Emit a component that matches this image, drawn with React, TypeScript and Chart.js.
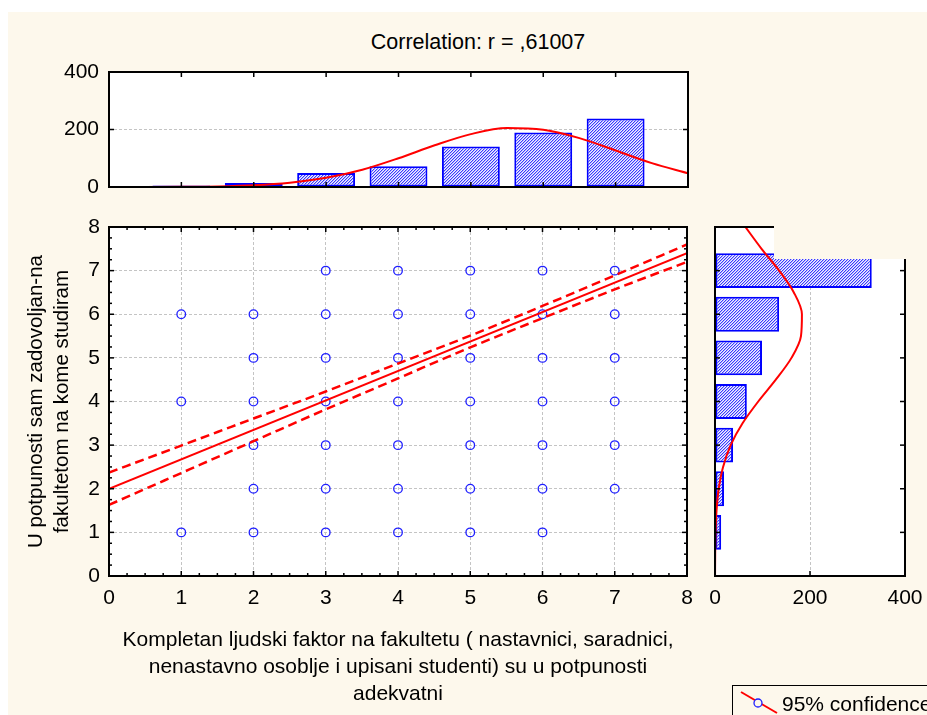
import React, { useEffect, useRef } from 'react';
import { Chart, registerables } from 'chart.js';

Chart.register(...registerables);

const FONT = "'Liberation Sans', Arial, sans-serif";
const BG = '#fdf8ec';

// ---------- Scatter (main panel) ----------
const rowLevels = [7, 6, 5, 4, 3, 2, 1];
const rowXs = [
  [3, 4, 5, 6, 7],
  [1, 2, 3, 4, 5, 6, 7],
  [2, 3, 4, 5, 6, 7],
  [1, 2, 3, 4, 5, 6, 7],
  [2, 3, 4, 5, 6, 7],
  [2, 3, 4, 5, 6, 7],
  [1, 2, 3, 4, 5, 6],
];
const fitX = [0, 8];
const fitY = [2.0, 7.4];
const bandX = [0, 1, 2, 3, 4, 5, 6, 7, 8];
const bandUpper = [2.37, 2.99, 3.61, 4.23, 4.87, 5.51, 6.19, 6.89, 7.6];
const bandLower = [1.63, 2.36, 3.09, 3.82, 4.53, 5.24, 5.91, 6.57, 7.2];

// ---------- Top histogram ----------
const topBins = [1, 2, 3, 4, 5, 6, 7];
const topCounts = [5, 14, 49, 72, 141, 190, 238];
const topCurveX = [0, 0.5, 1, 1.5, 2, 2.5, 3, 3.5, 4, 4.5, 5, 5.5, 6, 6.5, 7, 7.5, 8];
const topCurveY = [0, 0.1, 0.7, 2, 6, 15, 32, 60, 100, 145, 184, 205, 199, 170, 127, 83, 48];

// ---------- Right histogram ----------
const rightBins = [1, 2, 3, 4, 5, 6, 7];
const rightCounts = [13, 19, 38, 67, 99, 135, 330];
const rightCurvePos = [0, 0.5, 1, 1.5, 2, 2.5, 3, 3.5, 4, 4.5, 5, 5.5, 6, 6.5, 7, 7.5, 8];
const rightCurveVal = [0.1, 0.4, 1.2, 3.2, 7.8, 17, 33, 58, 91, 128, 161, 181, 183, 166, 135, 98, 64];

// ---------- Texts ----------
const titleText = 'Correlation: r = ,61007';
const xTitle = [
  'Kompletan ljudski faktor na fakultetu ( nastavnici, saradnici,',
  'nenastavno osoblje i upisani studenti) su u potpunosti',
  'adekvatni',
];
const yTitle = ['U potpunosti sam zadovoljan-na', 'fakultetom na kome studiram'];
const legendText = '95% confidence';

const majorUnits = [1, 2, 3, 4, 5, 6, 7];
const minorQuarters: number[] = [];
for (let v = 0.25; v < 8; v += 0.25) if (Math.abs(v - Math.round(v)) > 1e-6) minorQuarters.push(v);

type TickSpec = { axis: string; sides: string[]; major: number[]; minor?: number[] };

function makeFramePlugin(specs: TickSpec[], cover?: { x0: number; y1: number }) {
  return {
    id: 'frameTicks',
    beforeDraw(chart: any) {
      const { ctx, chartArea: a } = chart;
      ctx.save();
      ctx.fillStyle = '#ffffff';
      ctx.fillRect(a.left, a.top, a.right - a.left, a.bottom - a.top);
      ctx.restore();
    },
    afterDraw(chart: any) {
      const { ctx, chartArea: a, scales } = chart;
      ctx.save();
      ctx.strokeStyle = '#000';
      ctx.lineWidth = 1.5;
      const draw = (side: string, scale: any, v: number, len: number) => {
        const p = scale.getPixelForValue(v);
        ctx.beginPath();
        if (side === 'bottom') { ctx.moveTo(p, a.bottom); ctx.lineTo(p, a.bottom - len); }
        if (side === 'top') { ctx.moveTo(p, a.top); ctx.lineTo(p, a.top + len); }
        if (side === 'left') { ctx.moveTo(a.left, p); ctx.lineTo(a.left + len, p); }
        if (side === 'right') { ctx.moveTo(a.right, p); ctx.lineTo(a.right - len, p); }
        ctx.stroke();
      };
      specs.forEach((s) => {
        const scale = scales[s.axis];
        s.sides.forEach((side) => {
          s.major.forEach((v) => draw(side, scale, v, 5));
          (s.minor || []).forEach((v) => draw(side, scale, v, 3));
        });
      });
      ctx.lineWidth = 2;
      ctx.strokeRect(a.left, a.top, a.right - a.left, a.bottom - a.top);
      if (cover) {
        ctx.fillStyle = BG;
        ctx.fillRect(cover.x0, 0, chart.width - cover.x0, cover.y1);
      }
      ctx.restore();
    },
  };
}

function makeHatch(): any {
  const c = document.createElement('canvas');
  c.width = 3;
  c.height = 3;
  const g = c.getContext('2d')!;
  g.fillStyle = '#f2f2ff';
  g.fillRect(0, 0, 3, 3);
  for (let i = 0; i < 3; i++) {
    g.fillStyle = '#3a3aff';
    g.fillRect(i, 2 - i, 1, 1);
    g.fillStyle = '#b4b4ff';
    g.fillRect((i + 1) % 3, 2 - i, 1, 1);
  }
  return g.createPattern(c, 'repeat');
}

const tickFont = { size: 21, family: FONT };
const gridDash = [3, 2];
const noPadX = (s: any) => { s.paddingLeft = 0; s.paddingRight = 0; };
const noPadY = (s: any) => { s.paddingTop = 0; s.paddingBottom = 0; };

export default function App() {
  const topRef = useRef<HTMLCanvasElement>(null);
  const mainRef = useRef<HTMLCanvasElement>(null);
  const rightRef = useRef<HTMLCanvasElement>(null);

  useEffect(() => {
    const hatch = makeHatch();

    const points: { x: number; y: number }[] = [];
    rowLevels.forEach((y, i) => rowXs[i].forEach((x) => points.push({ x, y })));

    const main = new Chart(mainRef.current!, {
      type: 'scatter',
      data: {
        datasets: [
          {
            type: 'line',
            data: fitX.map((x, i) => ({ x, y: fitY[i] })),
            borderColor: '#ff0000',
            borderWidth: 2,
            pointRadius: 0,
            fill: false,
          } as any,
          {
            type: 'line',
            data: bandX.map((x, i) => ({ x, y: bandUpper[i] })),
            borderColor: '#ff0000',
            borderWidth: 2.5,
            borderDash: [9, 5],
            pointRadius: 0,
            fill: false,
            cubicInterpolationMode: 'monotone',
          } as any,
          {
            type: 'line',
            data: bandX.map((x, i) => ({ x, y: bandLower[i] })),
            borderColor: '#ff0000',
            borderWidth: 2.5,
            borderDash: [9, 5],
            pointRadius: 0,
            fill: false,
            cubicInterpolationMode: 'monotone',
          } as any,
          {
            type: 'scatter',
            data: points,
            pointRadius: 4.3,
            pointBorderWidth: 1.3,
            borderColor: '#1f1fff',
            backgroundColor: 'rgba(0,0,0,0)',
            pointBackgroundColor: 'rgba(0,0,0,0)',
          } as any,
        ],
      },
      options: {
        animation: false,
        responsive: false,
        events: [],
        layout: { padding: { top: 27, right: 13, left: 0, bottom: 0 } },
        plugins: { legend: { display: false }, tooltip: { enabled: false } },
        scales: {
          x: {
            type: 'linear',
            min: 0,
            max: 8,
            ticks: { stepSize: 1, padding: 10, color: '#000', font: tickFont, maxRotation: 0, autoSkip: false },
            grid: {
              drawTicks: false,
              lineWidth: 1,
              color: (c: any) => (c.tick && c.tick.value > 0 && c.tick.value < 8 ? '#c4c4c4' : 'rgba(0,0,0,0)'),
            },
            border: { display: false, dash: gridDash },
            title: {
              display: true,
              text: xTitle,
              color: '#000',
              font: { size: 21, family: FONT, lineHeight: 27 / 21 },
              padding: { top: 0, bottom: 7.5 },
            },
            afterFit: (s: any) => { s.height = 139; noPadX(s); },
          },
          y: {
            type: 'linear',
            min: 0,
            max: 8,
            ticks: { stepSize: 1, padding: 9, color: '#000', font: tickFont, autoSkip: false },
            grid: {
              drawTicks: false,
              lineWidth: 1,
              color: (c: any) => (c.tick && c.tick.value > 0 && c.tick.value < 8 ? '#c4c4c4' : 'rgba(0,0,0,0)'),
            },
            border: { display: false, dash: gridDash },
            title: {
              display: true,
              text: yTitle,
              color: '#000',
              font: { size: 20.5, family: FONT, lineHeight: 26 / 20.5 },
              padding: { top: 23, bottom: 0 },
            },
            afterFit: (s: any) => { s.width = 109; noPadY(s); },
          },
        },
      } as any,
      plugins: [
        makeFramePlugin([
          { axis: 'x', sides: ['top', 'bottom'], major: majorUnits, minor: minorQuarters },
          { axis: 'y', sides: ['left', 'right'], major: majorUnits, minor: minorQuarters },
        ]),
      ],
    });

    const top = new Chart(topRef.current!, {
      type: 'bar',
      data: {
        datasets: [
          {
            type: 'line',
            data: topCurveX.map((x, i) => ({ x, y: topCurveY[i] })),
            borderColor: '#ff0000',
            borderWidth: 2,
            pointRadius: 0,
            fill: false,
            cubicInterpolationMode: 'monotone',
          } as any,
          {
            type: 'bar',
            data: topBins.map((x, i) => ({ x, y: topCounts[i] })),
            backgroundColor: hatch,
            borderColor: '#0000ff',
            borderWidth: 2,
            borderSkipped: false,
            barPercentage: 1,
            categoryPercentage: 0.8,
          } as any,
        ],
      },
      options: {
        animation: false,
        responsive: false,
        events: [],
        layout: { padding: { top: 72, right: 12, left: 0, bottom: 13 } },
        plugins: { legend: { display: false }, tooltip: { enabled: false } },
        scales: {
          x: { type: 'linear', min: 0, max: 8, display: false, offset: false, grid: { offset: false } },
          y: {
            type: 'linear',
            min: 0,
            max: 400,
            ticks: { stepSize: 200, padding: 10, color: '#000', font: tickFont },
            grid: {
              drawTicks: false,
              color: (c: any) => (c.tick && c.tick.value === 200 ? '#c4c4c4' : 'rgba(0,0,0,0)'),
            },
            border: { display: false, dash: gridDash },
            afterFit: (s: any) => { s.width = 109; noPadY(s); },
          },
        },
      } as any,
      plugins: [
        makeFramePlugin([
          { axis: 'x', sides: ['top', 'bottom'], major: majorUnits },
          { axis: 'y', sides: ['left', 'right'], major: [200] },
        ]),
      ],
    });

    const right = new Chart(rightRef.current!, {
      type: 'bar',
      data: {
        datasets: [
          {
            type: 'line',
            indexAxis: 'y',
            data: rightCurvePos.map((y, i) => ({ x: rightCurveVal[i], y })),
            borderColor: '#ff0000',
            borderWidth: 2,
            pointRadius: 0,
            fill: false,
            cubicInterpolationMode: 'monotone',
          } as any,
          {
            type: 'bar',
            data: rightBins.map((y, i) => ({ x: rightCounts[i], y })),
            backgroundColor: hatch,
            borderColor: '#0000ff',
            borderWidth: 2,
            borderSkipped: false,
            barPercentage: 1,
            categoryPercentage: 0.8,
          } as any,
        ],
      },
      options: {
        indexAxis: 'y',
        animation: false,
        responsive: false,
        events: [],
        layout: { padding: { top: 27, right: 22, left: 15, bottom: 0 } },
        plugins: { legend: { display: false }, tooltip: { enabled: false } },
        scales: {
          x: {
            type: 'linear',
            min: 0,
            max: 400,
            ticks: { stepSize: 200, padding: 10, color: '#000', font: tickFont, maxRotation: 0, autoSkip: false },
            grid: {
              drawTicks: false,
              color: (c: any) => (c.tick && c.tick.value === 200 ? '#c4c4c4' : 'rgba(0,0,0,0)'),
            },
            border: { display: false, dash: gridDash },
            afterFit: (s: any) => { s.height = 139; noPadX(s); },
          },
          y: { type: 'linear', min: 0, max: 8, display: false, offset: false, grid: { offset: false } },
        },
      } as any,
      plugins: [
        makeFramePlugin(
          [
            { axis: 'y', sides: ['left', 'right'], major: majorUnits },
            { axis: 'x', sides: ['bottom'], major: [200] },
          ],
          { x0: 74, y1: 59 }
        ),
      ],
    });

    return () => {
      main.destroy();
      top.destroy();
      right.destroy();
    };
  }, []);

  return (
    <div
      style={{
        position: 'fixed',
        left: 0,
        top: 0,
        width: 927,
        height: 715,
        overflow: 'hidden',
        background: '#ffffff',
      }}
    >
      <div style={{ position: 'absolute', left: 8, top: 12, right: 0, bottom: 0, background: BG }} />
      <div
        style={{
          position: 'absolute',
          left: 0,
          top: 29,
          width: 956,
          textAlign: 'center',
          font: `21.5px ${FONT}`,
          lineHeight: '26px',
          color: '#000',
          whiteSpace: 'nowrap',
        }}
      >
        {titleText}
      </div>
      <canvas ref={topRef} width={700} height={200} style={{ position: 'absolute', left: 0, top: 0 }} />
      <canvas ref={mainRef} width={700} height={515} style={{ position: 'absolute', left: 0, top: 200 }} />
      <canvas ref={rightRef} width={227} height={515} style={{ position: 'absolute', left: 700, top: 200 }} />
      <div
        style={{
          position: 'absolute',
          left: 732,
          top: 685,
          width: 260,
          height: 60,
          border: '1px solid #000',
          boxSizing: 'border-box',
        }}
      >
        <svg width={60} height={30} style={{ position: 'absolute', left: 0, top: 0 }}>
          <line x1={8} y1={6} x2={44} y2={27} stroke="#ff0000" strokeWidth={2} />
          <circle cx={25} cy={17} r={4} fill={BG} stroke="#1f1fff" strokeWidth={1.3} />
        </svg>
        <span
          style={{
            position: 'absolute',
            left: 49,
            top: 6,
            font: `21px ${FONT}`,
            lineHeight: '24px',
            whiteSpace: 'nowrap',
            color: '#000',
          }}
        >
          {legendText}
        </span>
      </div>
    </div>
  );
}
